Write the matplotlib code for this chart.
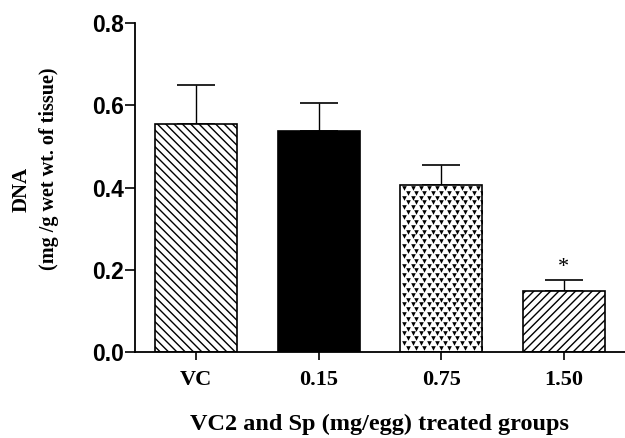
import matplotlib.pyplot as plt
import numpy as np

groups = ["VC", "0.15", "0.75", "1.50"]
dna_mean = [0.554, 0.537, 0.407, 0.149]
dna_err = [0.095, 0.068, 0.049, 0.027]
signif = ["", "", "", "*"]

plt.rcParams["hatch.linewidth"] = 1.0

fig = plt.figure(figsize=(6.25, 4.38), dpi=100)
ax = fig.add_axes([0.216, 0.196, 0.784, 0.751])

x = np.arange(len(groups))
width = 0.67
styles = [
    dict(facecolor="white", hatch="\\\\\\\\"),
    dict(facecolor="black", hatch=None),
    dict(facecolor="white", hatch=None),
    dict(facecolor="white", hatch="////"),
]
bars = []
for xi, m, st in zip(x, dna_mean, styles):
    b = ax.bar(xi, m, width, edgecolor="black", linewidth=1.2, zorder=2, **st)
    bars.append(b[0])

# heart-like texture for the 0.75 bar
rect = bars[2]
x0, w, h = rect.get_x(), rect.get_width(), rect.get_height()
gx, gy = np.meshgrid(np.linspace(x0 + w * 0.05, x0 + w * 0.95, 10),
                     np.arange(0.010, h, 0.0118))
gx = gx + np.where((np.round(gy / 0.0118) % 2) == 0, 0, w * 0.045)
pts = ax.scatter(gx.ravel(), gy.ravel(), marker="v", s=11, color="black",
                 linewidths=0, zorder=3)
pts.set_clip_path(rect)

ax.errorbar(x, dna_mean, yerr=[np.zeros(len(x)), dna_err], fmt="none",
            ecolor="black", elinewidth=1.0, capsize=14, capthick=1.2, zorder=1)

for xi, m, e, s in zip(x, dna_mean, dna_err, signif):
    if s:
        ax.text(xi, m + e + 0.006, s, ha="center", va="bottom", fontsize=16,
                family="Liberation Serif")

ax.set_xlim(-0.5, 3.5)
ax.set_ylim(0, 0.8)
ax.set_yticks([0.0, 0.2, 0.4, 0.6, 0.8])
ax.set_yticklabels(["0.0", "0.2", "0.4", "0.6", "0.8"],
                   family="Liberation Sans", fontweight="bold", fontsize=16.5)
ax.set_xticks(x)
ax.set_xticklabels(groups, family="Liberation Serif", fontweight="bold",
                   fontsize=16)
ax.tick_params(axis="y", length=7, width=1.2, pad=1)
ax.tick_params(axis="x", length=6, width=1.2, pad=7)
for sp in ["top", "right"]:
    ax.spines[sp].set_visible(False)
for sp in ["left", "bottom"]:
    ax.spines[sp].set_linewidth(1.3)

ax.set_xlabel("VC2 and Sp (mg/egg) treated groups", family="Liberation Serif",
              fontweight="bold", fontsize=17.5, labelpad=17)

# y label as two separately placed lines, like the original
fig.text(0.034, 1 - 189 / 438, "DNA", rotation=90, ha="center", va="center",
         family="Liberation Serif", fontweight="bold", fontsize=15)
fig.text(0.078, 1 - 169 / 438, "(mg /g wet wt. of tissue)", rotation=90,
         ha="center", va="center", family="Liberation Serif",
         fontweight="bold", fontsize=14.5)

fig.savefig("out.png", dpi=100)
